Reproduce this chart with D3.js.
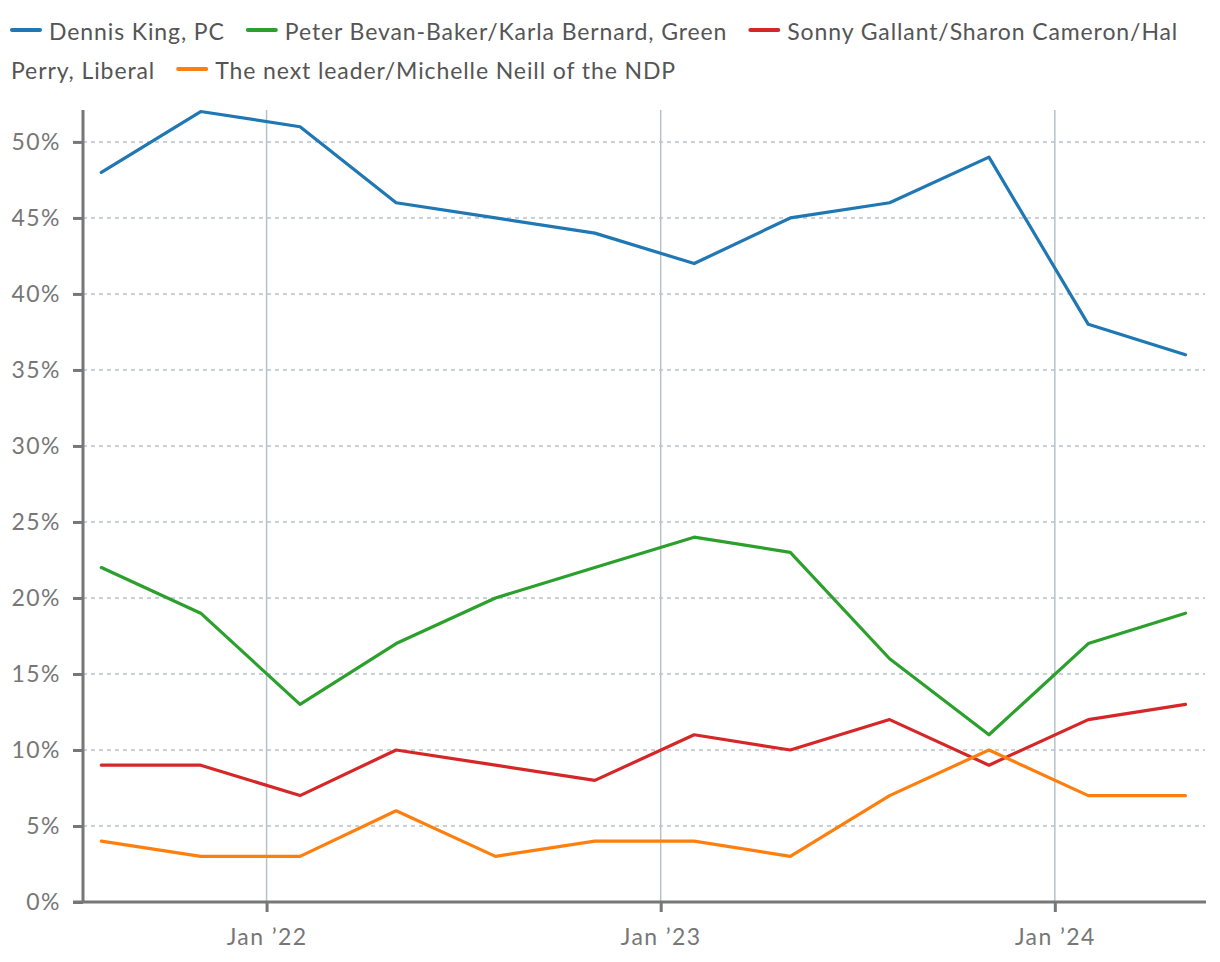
<!DOCTYPE html>
<html>
<head>
<meta charset="utf-8">
<script src="https://cdn.jsdelivr.net/npm/d3@7"></script>
<style>
  html, body { margin: 0; padding: 0; background: #fff; }
  body { width: 1220px; height: 962px; overflow: hidden; }
  svg { display: block; font-family: Lato, "Noto Sans", sans-serif; }
</style>
</head>
<body>
<svg id="chart" width="1220" height="962"></svg>
<script>
const dates = ["2021-08-01","2021-11-01","2022-02-01","2022-05-01","2022-08-01","2022-11-01","2023-02-01","2023-05-01","2023-08-01","2023-11-01","2024-02-01","2024-05-01"];
const seriesNames = ["Dennis King, PC","Peter Bevan-Baker/Karla Bernard, Green","Sonny Gallant/Sharon Cameron/Hal Perry, Liberal","The next leader/Michelle Neill of the NDP"];
const pc      = [48, 52, 51, 46, 45, 44, 42, 45, 46, 49, 38, 36];
const green   = [22, 19, 13, 17, 20, 22, 24, 23, 16, 11, 17, 19];
const liberal = [9, 9, 7, 10, 9, 8, 11, 10, 12, 9, 12, 13];
const ndp     = [4, 3, 3, 6, 3, 4, 4, 3, 7, 10, 7, 7];
const colors  = ["#1f77b4","#2ca02c","#d62728","#ff7f0e"];
const yTicks  = [0,5,10,15,20,25,30,35,40,45,50];
const xTickDates = ["2022-01-01","2023-01-01","2024-01-01"];
const xTickLabels = ["Jan \u201922","Jan \u201923","Jan \u201924"];

(function () {
const parse = d3.utcParse("%Y-%m-%d");
const allSeries = [pc, green, liberal, ndp];
const svg = d3.select("#chart");

// ---- legend (SVG, word-wrapped) ----
const legFont = 23, legLS = 0.9, legMax = 1195, lineH = 39;
const lg = svg.append("g").attr("class", "legend");
let cx = 11, base = 40;
function newText(xp) {
  return lg.append("text").attr("x", xp).attr("y", base)
    .attr("fill", "#555").style("font-size", legFont + "px").style("letter-spacing", legLS + "px");
}
seriesNames.forEach((name, i) => {
  lg.append("line").attr("x1", cx + 1).attr("x2", cx + 29).attr("y1", base - 10).attr("y2", base - 10)
    .attr("stroke", colors[i]).attr("stroke-width", 4).attr("stroke-linecap", "round");
  let t = newText(cx + 38);
  let startX = cx + 38;
  let content = "";
  name.split(" ").forEach(w => {
    const trial = content ? content + " " + w : w;
    t.text(trial);
    if (startX + t.node().getComputedTextLength() > legMax && content) {
      t.text(content);
      base += lineH;
      startX = 11;
      t = newText(startX);
      content = w;
      t.text(content);
    } else {
      content = trial;
    }
  });
  cx = startX + t.node().getComputedTextLength() + 22;
});

// ---- chart ----
const pLeft = 83, pRight = 1206, pTop = 110, pBottom = 902;
const x = d3.scaleUtc().domain([parse("2021-07-15"), parse("2024-05-20")]).range([pLeft, pRight]);
const y = d3.scaleLinear().domain([0, 52.1]).range([pBottom, pTop]);

svg.append("g").selectAll("line").data(yTicks.filter(t => t > 0)).join("line")
  .attr("x1", pLeft).attr("x2", pRight - 1)
  .attr("y1", d => y(d)).attr("y2", d => y(d))
  .attr("stroke", "#b6c2c9").attr("stroke-width", 1.5).attr("stroke-dasharray", "4,4");

svg.append("g").selectAll("line").data(xTickDates).join("line")
  .attr("x1", d => x(parse(d))).attr("x2", d => x(parse(d)))
  .attr("y1", pTop).attr("y2", pBottom)
  .attr("stroke", "#b6c2c9").attr("stroke-width", 1.5);

const line = d3.line().x((d, i) => x(parse(dates[i]))).y(d => y(d));
allSeries.forEach((s, i) => {
  svg.append("path").datum(s).attr("d", line)
    .attr("fill", "none").attr("stroke", colors[i]).attr("stroke-width", 3.2)
    .attr("stroke-linejoin", "round").attr("stroke-linecap", "round");
});

const yAxis = d3.axisLeft(y).tickValues(yTicks).tickFormat(d => d + "%").tickSize(10).tickPadding(12);
const gy = svg.append("g").attr("transform", `translate(${pLeft},0)`).call(yAxis);
gy.select(".domain").attr("d", `M0,${pTop}V${pBottom}`).attr("stroke", "#777").attr("stroke-width", 3);
gy.selectAll(".tick line").attr("stroke", "#777").attr("stroke-width", 3);
gy.selectAll(".tick text").attr("fill", "#777").style("font-size", "23px").style("letter-spacing", "1.5px")
  .style("font-family", "Lato, 'Noto Sans', sans-serif");

const xAxis = d3.axisBottom(x).tickValues(xTickDates.map(parse)).tickFormat((d, i) => xTickLabels[i]).tickSize(10).tickPadding(17);
const gx = svg.append("g").attr("transform", `translate(0,${pBottom})`).call(xAxis);
gx.select(".domain").attr("d", `M${pLeft - 10},0H${pRight}`).attr("stroke", "#777").attr("stroke-width", 3);
gx.selectAll(".tick line").attr("stroke", "#777").attr("stroke-width", 3);
gx.selectAll(".tick text").attr("fill", "#777").style("font-size", "23px").style("letter-spacing", "1.4px")
  .style("font-family", "Lato, 'Noto Sans', sans-serif");
})();
</script>
</body>
</html>
